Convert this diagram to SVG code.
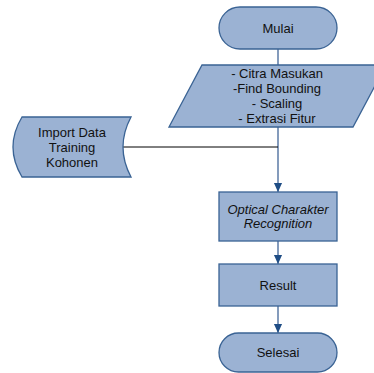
<svg xmlns="http://www.w3.org/2000/svg" width="374" height="373" viewBox="0 0 374 373">
<style>
.shape{fill:#9bb2d3;stroke:#3a6394;stroke-width:1.3}
.t{font-family:"Liberation Sans",Arial,sans-serif;font-size:13px;fill:#111;text-anchor:middle}
.it{font-style:italic}
.conn{stroke:#5b7aa6;stroke-width:1.5;fill:none}
.blk{stroke:#000;stroke-width:1;fill:none}
</style>
<defs>
<marker id="ah" markerUnits="userSpaceOnUse" markerWidth="9" markerHeight="11" refX="10" refY="4.5" orient="auto" viewBox="0 0 10 9">
<path d="M0,0 L10,4.5 L0,9 Z" fill="#1f4d85"/>
</marker>
</defs>
<rect width="374" height="373" fill="#fff"/>
<g id="connectors">
<line class="conn" x1="278" y1="49" x2="278" y2="65"/>
<line class="conn" x1="278" y1="127" x2="278" y2="192" marker-end="url(#ah)"/>
<line class="blk" x1="123" y1="147" x2="278" y2="147"/>
<line class="conn" x1="278" y1="241" x2="278" y2="264" marker-end="url(#ah)"/>
<line class="conn" x1="278" y1="306" x2="278" y2="333" marker-end="url(#ah)"/>
</g>
<g id="mulai">
<rect class="shape" x="219" y="7" width="118" height="42" rx="21" ry="21"/>
<text class="t" x="278" y="32.5">Mulai</text>
</g>
<g id="input">
<polygon class="shape" points="202,65 386,65 353,127 169,127"/>
<text class="t" x="277" y="77.5">- Citra Masukan</text>
<text class="t" x="277" y="92.5">-Find Bounding</text>
<text class="t" x="277" y="107.5">- Scaling</text>
<text class="t" x="277" y="122.5">- Extrasi Fitur</text>
</g>
<g id="import">
<path class="shape" d="M22,117 H131 Q115,147 131,177 H22 Q4,147 22,117 Z"/>
<text class="t" x="72" y="136.5">Import Data</text>
<text class="t" x="72" y="151.5">Training</text>
<text class="t" x="72" y="166.5">Kohonen</text>
</g>
<g id="ocr">
<rect class="shape" x="219" y="192" width="118" height="49"/>
<text class="t it" x="278" y="213.5">Optical Charakter</text>
<text class="t it" x="278" y="227.5">Recognition</text>
</g>
<g id="result">
<rect class="shape" x="219" y="264" width="118" height="42"/>
<text class="t" x="278" y="289.5">Result</text>
</g>
<g id="selesai">
<rect class="shape" x="219" y="333" width="118" height="39" rx="19.5" ry="19.5"/>
<text class="t" x="278" y="357">Selesai</text>
</g>
</svg>
